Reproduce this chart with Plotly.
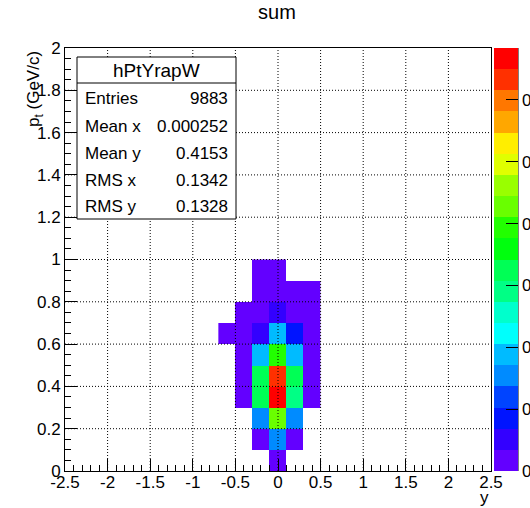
import colorsys
import plotly.graph_objects as go

# ---------------- data ----------------
x_centers = [-0.6, -0.4, -0.2, 0.0, 0.2, 0.4]          # rapidity bin centres
y_centers = [0.05, 0.15, 0.25, 0.35, 0.45, 0.55, 0.65, 0.75, 0.85, 0.95]  # pt bin centres
# rows follow y_centers (bottom -> top), columns follow x_centers; None = empty bin
z_values = [
    [None,   None,   None,   0.0009, None,   None],
    [None,   None,   0.0009, 0.0077, 0.0009, None],
    [None,   None,   0.0077, 0.0214, 0.0077, None],
    [None,   0.0009, 0.0163, 0.0342, 0.0145, 0.0009],
    [None,   0.0009, 0.0163, 0.0316, 0.0163, 0.0009],
    [None,   0.0009, 0.0094, 0.0197, 0.0094, 0.0009],
    [0.0009, 0.0009, 0.0026, 0.0094, 0.0043, 0.0009],
    [None,   0.0009, 0.0009, 0.0026, 0.0009, 0.0009],
    [None,   None,   0.0009, 0.0009, 0.0009, 0.0009],
    [None,   None,   0.0009, 0.0009, None,   None],
]
z_min, z_max = 0.0, 0.0342
n_levels = 20

x_tickvals = [-2.5, -2, -1.5, -1, -0.5, 0, 0.5, 1, 1.5, 2, 2.5]
x_ticktext = ["-2.5", "-2", "-1.5", "-1", "-0.5", "0", "0.5", "1", "1.5", "2", "2.5"]
y_tickvals = [0, 0.2, 0.4, 0.6, 0.8, 1.0, 1.2, 1.4, 1.6, 1.8, 2.0]
y_ticktext = ["0", "0.2", "0.4", "0.6", "0.8", "1", "1.2", "1.4", "1.6", "1.8", "2"]
z_tickvals = [0, 0.005, 0.01, 0.015, 0.02, 0.025, 0.03]
z_ticktext = ["0", "0.005", "0.01", "0.015", "0.02", "0.025", "0.03"]

stats_title = "hPtYrapW"
stats_labels = ["Entries", "Mean x", "Mean y", "RMS x", "RMS y"]
stats_values = ["9883", "0.000252", "0.4153", "0.1342", "0.1328"]

# ---------------- style ----------------
W, H = 530, 508
L, R, T, B = 65, 39, 48, 37
PW, PH = W - L - R, H - T - B
FONT = "Liberation Sans, Arial, Helvetica, sans-serif"


def px(xp):
    return (xp - L) / PW


def py(yp):
    return (H - B - yp) / PH


# ROOT "pretty" palette sampled at 20 contour levels
colors = []
for j in range(n_levels):
    idx = int((j + 0.99) * 50 / n_levels)
    hue = 280 - (idx + 1) * (280 / 50)
    r, g, b = colorsys.hls_to_rgb(hue / 360.0, 0.5, 1.0)
    colors.append("rgb(%d,%d,%d)" % (round(r * 255), round(g * 255), round(b * 255)))
colorscale = []
for j, c in enumerate(colors):
    colorscale.append([j / n_levels, c])
    colorscale.append([(j + 1) / n_levels, c])

fig = go.Figure()
fig.add_trace(go.Heatmap(
    x=x_centers, y=y_centers, z=z_values,
    zmin=z_min, zmax=z_max, colorscale=colorscale,
    hoverongaps=False,
    colorbar=dict(
        thickness=24, thicknessmode="pixels",
        len=1, lenmode="fraction",
        x=px(494), xanchor="left", y=0, yanchor="bottom",
        xpad=0, ypad=0, outlinewidth=0,
        ticks="inside", ticklen=12, tickcolor="black", tickwidth=1,
        tickvals=z_tickvals, ticktext=z_ticktext,
        tickfont=dict(family=FONT, size=17, color="black"),
    ),
))

shapes = []
# dotted grid drawn over the cells (as in ROOT)
for v in x_tickvals[1:-1]:
    shapes.append(dict(type="line", xref="x", yref="paper", x0=v, x1=v, y0=0, y1=1,
                       line=dict(color="black", width=1, dash="1px,2px"), layer="above"))
for v in y_tickvals[1:-1]:
    shapes.append(dict(type="line", xref="paper", yref="y", x0=0, x1=1, y0=v, y1=v,
                       line=dict(color="black", width=1, dash="1px,2px"), layer="above"))
# stats box
shapes.append(dict(type="rect", xref="paper", yref="paper",
                   x0=px(77), x1=px(236), y0=py(219), y1=py(57),
                   fillcolor="white", line=dict(color="black", width=1), layer="above"))
shapes.append(dict(type="line", xref="paper", yref="paper",
                   x0=px(77), x1=px(236), y0=py(83), y1=py(83),
                   line=dict(color="black", width=1), layer="above"))
# palette axis line
shapes.append(dict(type="line", xref="paper", yref="paper",
                   x0=px(518), x1=px(518), y0=0, y1=1,
                   line=dict(color="black", width=1), layer="above"))

annotations = []
annotations.append(dict(text=stats_title, xref="paper", yref="paper",
                        x=px(156.5), y=py(70.5), xanchor="center", yanchor="middle",
                        showarrow=False, font=dict(family=FONT, size=19, color="black")))
row_y = [99, 126.5, 153.5, 180, 206]
for lab, val, yy in zip(stats_labels, stats_values, row_y):
    annotations.append(dict(text=lab, xref="paper", yref="paper", x=px(83), y=py(yy),
                            xanchor="left", yanchor="middle", showarrow=False,
                            font=dict(family=FONT, size=17, color="black")))
    annotations.append(dict(text=val, xref="paper", yref="paper", x=px(230), y=py(yy),
                            xanchor="right", yanchor="middle", showarrow=False,
                            font=dict(family=FONT, size=17, color="black")))
# axis titles (ROOT style: at the axis ends)
annotations.append(dict(text="p<sub>t</sub> (GeV/c)", xref="paper", yref="paper",
                        x=px(35), y=py(89), xanchor="center", yanchor="middle",
                        textangle=-90, showarrow=False,
                        font=dict(family=FONT, size=17, color="black")))
annotations.append(dict(text="y", xref="paper", yref="paper",
                        x=px(484), y=py(497), xanchor="center", yanchor="middle",
                        showarrow=False, font=dict(family=FONT, size=17, color="black")))

axis_common = dict(
    showgrid=False, zeroline=False, showline=True, linecolor="black", linewidth=1,
    mirror=True, ticks="inside", ticklen=12, tickcolor="black", tickwidth=1,
    tickfont=dict(family=FONT, size=17, color="black"), layer="above traces",
    tickmode="array",
)

fig.update_layout(
    width=W, height=H,
    margin=dict(l=L, r=R, t=T, b=B, pad=0, autoexpand=False),
    paper_bgcolor="white", plot_bgcolor="white",
    font=dict(family=FONT, color="black"),
    title=dict(text="sum", x=277 / W, xanchor="center", xref="container",
               y=1 - 12 / H, yanchor="middle", yref="container",
               font=dict(family=FONT, size=20, color="black")),
    xaxis=dict(range=[-2.5, 2.5], tickvals=x_tickvals, ticktext=x_ticktext,
               ticklabelstandoff=-4,
               minor=dict(ticks="inside", ticklen=6, tickcolor="black", dtick=0.1,
                          tick0=-2.5, showgrid=False),
               **axis_common),
    yaxis=dict(range=[0, 2], tickvals=y_tickvals, ticktext=y_ticktext,
               minor=dict(ticks="inside", ticklen=6, tickcolor="black", dtick=0.05,
                          tick0=0, showgrid=False),
               **axis_common),
    shapes=shapes, annotations=annotations,
    showlegend=False,
)

fig.write_html("out.html")
